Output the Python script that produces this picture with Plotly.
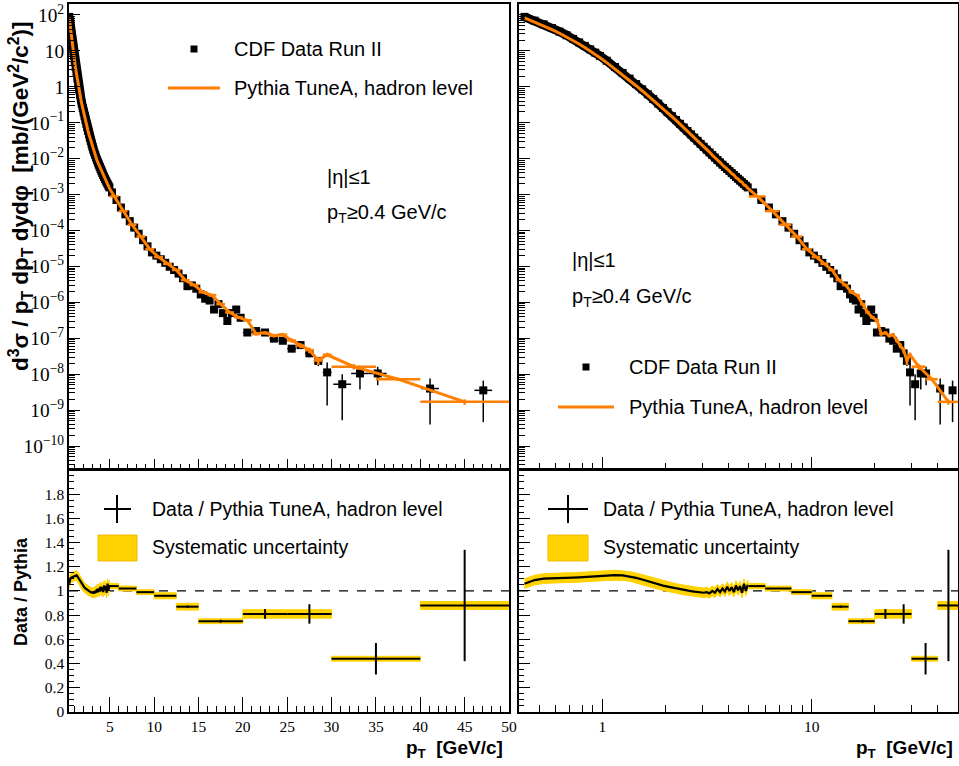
import numpy as np
import plotly.graph_objects as go

# ---------------------------------------------------------------------------
# Inclusive charged-particle spectrum, |eta| <= 1, pT >= 0.4 GeV/c
# ---------------------------------------------------------------------------

# fine-binned low-pT region (bin centres, GeV/c)
PT_FINE = [0.425, 0.475, 0.525, 0.575, 0.625, 0.675, 0.725, 0.775, 0.825, 0.875, 0.925, 0.975,
           1.05, 1.15, 1.25, 1.35, 1.45, 1.55, 1.65, 1.75, 1.85, 1.95,
           2.05, 2.15, 2.25, 2.35, 2.45, 2.55, 2.65, 2.75, 2.85, 2.95,
           3.05, 3.15, 3.25, 3.35, 3.45, 3.55, 3.65, 3.75, 3.85, 3.95,
           4.05, 4.15, 4.25, 4.35, 4.45, 4.55, 4.65, 4.75, 4.85, 4.95]
# log10 of the measured cross section [mb/(GeV^2/c^2)]
LOG_SIGMA_FINE = [1.948, 1.843, 1.740, 1.638, 1.536, 1.435, 1.335, 1.237, 1.140, 1.045, 0.952, 0.860,
                  0.726, 0.553, 0.387, 0.228, 0.076, -0.069, -0.208, -0.341, -0.468, -0.589,
                  -0.705, -0.816, -0.924, -1.029, -1.131, -1.229, -1.323, -1.415, -1.503, -1.589,
                  -1.671, -1.750, -1.826, -1.900, -1.971, -2.039, -2.105, -2.168, -2.230, -2.289,
                  -2.346, -2.402, -2.456, -2.509, -2.560, -2.610, -2.659, -2.707, -2.754, -2.800]
# data / Pythia in the fine bins
RATIO_FINE = [1.06, 1.09, 1.102, 1.106, 1.108, 1.11, 1.11, 1.112, 1.115, 1.118, 1.12, 1.123,
              1.127, 1.13, 1.128, 1.12, 1.108, 1.095, 1.08, 1.066, 1.054, 1.044,
              1.036, 1.028, 1.02, 1.014, 1.008, 1.003, 0.998, 0.994, 0.99, 0.988,
              0.985, 0.99, 0.98, 1.0, 0.985, 1.015, 0.99, 1.02, 0.995, 1.035,
              1.0, 1.03, 0.99, 1.045, 1.005, 1.04, 0.985, 1.06, 1.0, 1.05]
SYST_FINE = 0.04

# high-pT data points
PT_DATA_HI = [5.25, 5.75, 6.25, 6.75, 7.25, 7.75, 8.25, 8.75, 9.25, 9.75,
              10.25, 10.75, 11.25, 11.75, 12.25, 12.75, 13.25, 13.75, 14.25, 14.75,
              15.25, 15.75, 16.25, 16.75, 17.25, 17.75, 18.25, 18.75, 19.25, 19.75,
              20.5, 21.5, 22.5, 23.5, 24.5, 25.5, 26.5, 27.5, 28.5, 29.5,
              31.2, 33.2, 35.2, 41.1, 47.1]
PT_DATA_HALF = [0.25, 0.25, 0.25, 0.25, 0.25, 0.25, 0.25, 0.25, 0.25, 0.25,
                0.25, 0.25, 0.25, 0.25, 0.25, 0.25, 0.25, 0.25, 0.25, 0.25,
                0.25, 0.25, 0.25, 0.25, 0.25, 0.25, 0.25, 0.25, 0.25, 0.25,
                0.5, 0.5, 0.5, 0.5, 0.5, 0.5, 0.5, 0.5, 0.5, 0.5,
                1.0, 1.0, 1.0, 1.0, 1.0]
LOG_SIGMA_HI = [-2.94, -3.15, -3.36, -3.55, -3.74, -3.92, -4.09, -4.27, -4.44, -4.61,
                -4.70, -4.80, -4.90, -5.01, -5.10, -5.20, -5.33, -5.55, -5.53, -5.62,
                -5.78, -5.90, -5.95, -6.20, -6.05, -6.30, -6.52, -6.30, -6.20, -6.43,
                -6.84, -6.80, -6.84, -7.01, -7.07, -7.29, -7.19, -7.42, -7.63, -7.95,
                -8.28, -7.98, -7.98, -8.40, -8.45]
REL_ERR_HI = [0.01, 0.01, 0.01, 0.01, 0.01, 0.015, 0.015, 0.015, 0.02, 0.02,
              0.025, 0.025, 0.03, 0.03, 0.03, 0.035, 0.04, 0.04, 0.045, 0.05,
              0.05, 0.06, 0.06, 0.07, 0.07, 0.08, 0.08, 0.09, 0.09, 0.10,
              0.12, 0.12, 0.14, 0.15, 0.16, 0.18, 0.20, 0.22, 0.28, 0.88,
              0.90, 0.64, 0.53, 0.90, 0.87]

# Pythia Tune A prediction, coarse bins above 5 GeV/c
PT_PY_HI = [5.5, 6.5, 7.5, 8.5, 9.5, 10.5, 11.5, 12.5, 13.5, 14.5,
            15.5, 16.5, 17.5, 18.5, 19.5, 20.5, 21.5, 22.5, 23.5, 24.5,
            25.5, 26.5, 27.5, 28.5, 29.5, 32.5, 37.5, 45.0]
PT_PY_HALF = [0.5, 0.5, 0.5, 0.5, 0.5, 0.5, 0.5, 0.5, 0.5, 0.5,
              0.5, 0.5, 0.5, 0.5, 0.5, 0.5, 0.5, 0.5, 0.5, 0.5,
              0.5, 0.5, 0.5, 0.5, 0.5, 2.5, 2.5, 5.0]
LOG_PY_HI = [-3.05, -3.46, -3.84, -4.17, -4.52, -4.74, -4.93, -5.10, -5.38, -5.52,
             -5.72, -5.80, -6.05, -6.28, -6.42, -6.50, -6.88, -6.85, -6.93, -6.90,
             -7.06, -7.20, -7.33, -7.62, -7.46, -7.79, -8.14, -8.77]
REL_ERR_PY = [0.005, 0.005, 0.006, 0.007, 0.008, 0.01, 0.012, 0.014, 0.016, 0.02,
              0.03, 0.04, 0.05, 0.05, 0.06, 0.08, 0.09, 0.10, 0.11, 0.12,
              0.14, 0.16, 0.18, 0.25, 0.14, 0.17, 0.11, 0.17]

# data / Pythia in wide bins
RATIO_EDGES = [5, 6, 8, 10, 12.5, 15, 20, 25, 30, 40, 50]
RATIO_HI = [1.04, 1.02, 0.99, 0.96, 0.87, 0.75, 0.81, 0.81, 0.44, 0.88]
RATIO_STAT = [0.004, 0.004, 0.005, 0.006, 0.01, 0.012, 0.04, 0.08, 0.13, 0.46]
RATIO_SYST = [0.022, 0.02, 0.02, 0.025, 0.028, 0.02, 0.035, 0.035, 0.02, 0.033]

# ---------------------------------------------------------------------------
ORANGE = "#ff7f00"
GOLD = "#ffd200"
GOLD_EDGE = "#f2b900"
SERIF = "Liberation Serif"
SANS = "Liberation Sans"

W, H = 959, 766


def fx(p):
    return p / W


def fy(p):
    return 1 - p / H


pt_fine = np.array(PT_FINE)
sigma_fine = 10 ** np.array(LOG_SIGMA_FINE)
ratio_fine = np.array(RATIO_FINE)
pythia_fine = sigma_fine / ratio_fine

pt_hi = np.array(PT_DATA_HI)
sigma_hi = 10 ** np.array(LOG_SIGMA_HI)
err_hi = sigma_hi * np.array(REL_ERR_HI)

py_hi = 10 ** np.array(LOG_PY_HI)
py_x = np.concatenate([pt_fine, PT_PY_HI])
py_y = np.concatenate([pythia_fine, py_hi])
py_xerr = np.concatenate([np.zeros(len(pt_fine)), PT_PY_HALF])
py_yerr = np.concatenate([np.zeros(len(pt_fine)), py_hi * np.array(REL_ERR_PY)])

edges = np.array(RATIO_EDGES, dtype=float)
r_lo, r_hi = edges[:-1], edges[1:]
r_mid = 0.5 * (r_lo + r_hi)
r_half = 0.5 * (r_hi - r_lo)
r_val = np.array(RATIO_HI)
r_syst = np.array(RATIO_SYST)

fig = go.Figure()

# spectrum panels
for xa, ya in (("x", "y"), ("x2", "y2")):
    fig.add_trace(go.Scatter(
        x=pt_fine, y=sigma_fine, xaxis=xa, yaxis=ya, mode="lines+markers",
        line=dict(color="black", width=9),
        marker=dict(symbol="square", size=8, color="black"),
        showlegend=False, hoverinfo="skip"))
    fig.add_trace(go.Scatter(
        x=pt_hi, y=sigma_hi, xaxis=xa, yaxis=ya, mode="markers",
        marker=dict(symbol="square", size=8, color="black"),
        error_x=dict(type="data", array=PT_DATA_HALF, color="black", thickness=1.5, width=0),
        error_y=dict(type="data", array=err_hi, color="black", thickness=1.5, width=0),
        showlegend=False, hoverinfo="skip"))
    fig.add_trace(go.Scatter(
        x=py_x, y=py_y, xaxis=xa, yaxis=ya, mode="lines",
        line=dict(color=ORANGE, width=3),
        error_x=dict(type="data", array=py_xerr, color=ORANGE, thickness=2.5, width=0),
        error_y=dict(type="data", array=py_yerr, color=ORANGE, thickness=2.5, width=0),
        showlegend=False, hoverinfo="skip"))

# ratio panels
box_x, box_y = [], []
for lo, hi, v, s in zip(r_lo, r_hi, r_val, r_syst):
    box_x += [lo, hi, hi, lo, lo, None]
    box_y += [v - s, v - s, v + s, v + s, v - s, None]

shapes = []
for xa, ya in (("x3", "y3"), ("x4", "y4")):
    fig.add_trace(go.Scatter(
        x=np.concatenate([pt_fine, pt_fine[::-1]]),
        y=np.concatenate([ratio_fine + SYST_FINE, (ratio_fine - SYST_FINE)[::-1]]),
        xaxis=xa, yaxis=ya, mode="lines", fill="toself", fillcolor=GOLD,
        line=dict(color=GOLD, width=1), showlegend=False, hoverinfo="skip"))
    fig.add_trace(go.Scatter(
        x=box_x, y=box_y, xaxis=xa, yaxis=ya, mode="lines", fill="toself",
        fillcolor=GOLD, line=dict(color=GOLD, width=1),
        showlegend=False, hoverinfo="skip"))
    fig.add_trace(go.Scatter(
        x=pt_fine, y=ratio_fine, xaxis=xa, yaxis=ya, mode="lines",
        line=dict(color="black", width=2.2), showlegend=False, hoverinfo="skip"))
    fig.add_trace(go.Scatter(
        x=r_mid, y=r_val, xaxis=xa, yaxis=ya, mode="markers",
        marker=dict(size=1, color="black"),
        error_x=dict(type="data", array=r_half, color="black", thickness=2, width=0),
        error_y=dict(type="data", array=RATIO_STAT, color="black", thickness=2, width=0),
        showlegend=False, hoverinfo="skip"))
    shapes.append(dict(type="line", xref=f"{xa} domain", yref=ya, x0=0, x1=1, y0=1, y1=1,
                       line=dict(color="black", width=1.2, dash="dash"), layer="below"))

# ---------------------------------------------------------------------------
# axes
LEFT = [fx(69), fx(509)]
RIGHT = [fx(519), fx(958)]
TOP = [fy(469), fy(4)]
BOTTOM = [fy(712), fy(470)]
TICKFONT = dict(family=SERIF, size=15.5, color="black")


def axis(**kw):
    d = dict(showgrid=False, zeroline=False, showline=True, mirror=True,
             linecolor="black", linewidth=1.5, ticks="inside", tickcolor="black",
             tickwidth=1.2, tickfont=TICKFONT, automargin=False)
    d.update(kw)
    return d


def minor(length, dtick):
    return dict(ticks="inside", ticklen=length, dtick=dtick, tickcolor="black", tickwidth=1)


log_x_range = [np.log10(0.4), np.log10(50)]
log_y_range = [-10.64, 2.306]

fig.update_layout(
    xaxis=axis(domain=LEFT, anchor="y", range=[0.4, 50], tick0=0, dtick=5, ticklen=10,
               minor=minor(5, 1), showticklabels=False),
    yaxis=axis(domain=TOP, anchor="x", type="log", range=log_y_range, dtick=1,
               exponentformat="power", ticklen=11, minor=minor(6, "D1")),
    xaxis2=axis(domain=RIGHT, anchor="y2", type="log", range=log_x_range, dtick=1,
                ticklen=12, minor=minor(6, "D1"), showticklabels=False),
    yaxis2=axis(domain=TOP, anchor="x2", type="log", range=log_y_range, dtick=1,
                ticklen=11, minor=minor(6, "D1"), showticklabels=False),
    xaxis3=axis(domain=LEFT, anchor="y3", range=[0.4, 50], tick0=0, dtick=5, ticklen=15,
                minor=minor(6, 1)),
    yaxis3=axis(domain=BOTTOM, anchor="x3", range=[0, 1.999], tick0=0, dtick=0.2,
                ticklen=11, minor=minor(5, 0.05)),
    xaxis4=axis(domain=RIGHT, anchor="y4", type="log", range=log_x_range, dtick=1,
                ticklen=13, minor=minor(7, "D1")),
    yaxis4=axis(domain=BOTTOM, anchor="x4", range=[0, 1.999], tick0=0, dtick=0.2,
                ticklen=11, minor=minor(5, 0.05), showticklabels=False),
)

# ---------------------------------------------------------------------------
# legends, labels and titles
ann = []


def text(x, y, s, anchor="left", size=20, bold=False, angle=0, yanchor="middle"):
    body = f"<b>{s}</b>" if bold else s
    ann.append(dict(x=fx(x), y=fy(y), xref="paper", yref="paper", text=body,
                    showarrow=False, xanchor=anchor, yanchor=yanchor, textangle=angle,
                    font=dict(family=SANS, size=size, color="black")))


def rect(x0, y0, x1, y1, fill, edge=None, width=0):
    shapes.append(dict(type="rect", xref="paper", yref="paper",
                       x0=fx(x0), x1=fx(x1), y0=fy(y0), y1=fy(y1),
                       fillcolor=fill, line=dict(color=edge or fill, width=width)))


def seg(x0, y0, x1, y1, color, width):
    shapes.append(dict(type="line", xref="paper", yref="paper",
                       x0=fx(x0), x1=fx(x1), y0=fy(y0), y1=fy(y1),
                       line=dict(color=color, width=width)))


LEG_DATA = "CDF Data Run II"
LEG_PYTHIA = "Pythia TuneA, hadron level"
LEG_RATIO = "Data / Pythia TuneA, hadron level"
LEG_SYST = "Systematic uncertainty"
ETA_CUT = "|η|≤1"
PT_CUT = "p<sub>T</sub>≥0.4 GeV/c"

# top-left legend
rect(190.5, 45.5, 197.5, 52.5, "black")
text(232, 49, LEG_DATA)
seg(168, 88, 220, 88, ORANGE, 3)
text(232, 88, LEG_PYTHIA)
text(325, 177, ETA_CUT)
text(325, 213, PT_CUT)

# top-right legend
rect(582.5, 363.5, 589.5, 370.5, "black")
text(627, 367, LEG_DATA)
seg(558, 407, 614, 407, ORANGE, 3)
text(627, 407, LEG_PYTHIA)
text(570, 260, ETA_CUT)
text(570, 297, PT_CUT)

# ratio legends
for cx, hx0, hx1, bx0, bx1, tx in ((117, 104, 131, 98, 137, 150),
                                  (568, 548, 588, 548, 588, 601)):
    seg(hx0, 509, hx1, 509, "black", 2)
    seg(cx, 495, cx, 523, "black", 2)
    text(tx, 509, LEG_RATIO, size=19.5)
    rect(bx0, 535, bx1, 561, GOLD, GOLD_EDGE, 1)
    text(tx, 547, LEG_SYST, size=19.5)

# axis titles
text(21, 196,
     "d<sup>3</sup>σ / p<sub>T</sub> dp<sub>T</sub> dydφ  [mb/(GeV<sup>2</sup>/c<sup>2</sup>)]",
     anchor="center", size=22.5, bold=True, angle=-90)
text(21, 592, "Data / Pythia", anchor="center", size=18, bold=True, angle=-90)
text(505, 749, "p<sub>T</sub>\u00a0 [GeV/c]", anchor="right", size=19, bold=True)
text(955, 749, "p<sub>T</sub>\u00a0 [GeV/c]", anchor="right", size=19, bold=True)

fig.update_layout(
    width=W, height=H, margin=dict(l=0, r=0, t=0, b=0),
    paper_bgcolor="white", plot_bgcolor="white",
    showlegend=False, annotations=ann, shapes=shapes,
)

fig.write_html("out.html")
